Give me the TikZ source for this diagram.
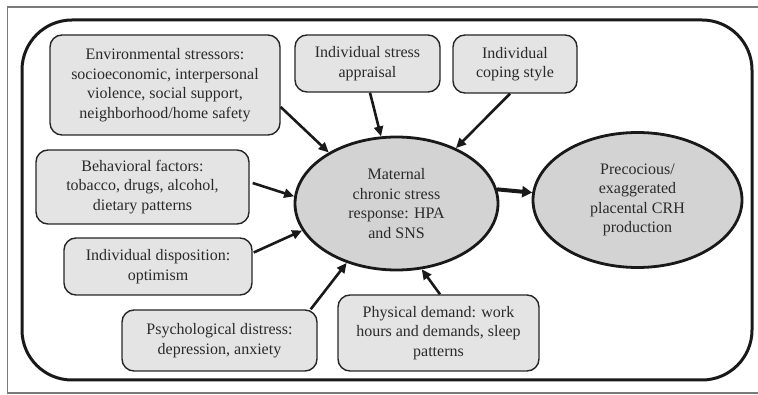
\documentclass[tikz,border=0pt]{standalone}
\usepackage{fontspec}
\setmainfont{Liberation Serif}
\usetikzlibrary{shapes.geometric,arrows.meta,calc}
\definecolor{boxfill}{HTML}{E4E4E4}
\definecolor{ellfill}{HTML}{D3D3D3}
\definecolor{txt}{HTML}{2A2A2A}
\definecolor{framegray}{HTML}{7A7A7A}
\begin{document}
\begin{tikzpicture}[x=1pt,y=-1pt,
  factor/.style={draw=black!85,line width=1.4pt,fill=boxfill,rounded corners=12pt,
    align=center,text=txt,inner sep=0pt,
    font=\fontsize{16}{19.5}\selectfont},
  hub/.style={ellipse,draw=black!90,line width=2.8pt,fill=ellfill,align=center,text=txt,
    inner sep=0pt,font=\fontsize{16}{19.5}\selectfont},
  arr/.style={line width=2.6pt,black!90,-{Triangle[length=10pt,width=9pt]}},
  bigarr/.style={line width=4pt,black!90,-{Triangle[length=10pt,width=11pt]}}]
\useasboundingbox (0,0) rectangle (758,395);
% outer frame
\draw[framegray,line width=1.2pt] (762,7) -- (7.5,7) -- (7.5,393) -- (762,393);
% rounded container
\draw[line width=3pt,black!90,rounded corners=50pt] (22,20) rectangle (752,380);
% factor boxes
\node[factor,minimum width=230pt,minimum height=100pt] (env) at (165,85)
  {Environmental stressors:\\socioeconomic, interpersonal\\violence, social support,\\neighborhood/home safety};
\node[factor,minimum width=145pt,minimum height=57pt] (app) at (367.5,63.5)
  {Individual stress\\appraisal};
\node[factor,minimum width=124pt,minimum height=58pt] (cop) at (515,64)
  {Individual\\coping style};
\node[factor,minimum width=213pt,minimum height=74pt] (beh) at (142.5,187)
  {Behavioral factors:\\tobacco, drugs, alcohol,\\dietary patterns};
\node[factor,minimum width=188pt,minimum height=57pt] (dis) at (158,266.5)
  {Individual disposition:\\optimism};
\node[factor,minimum width=195pt,minimum height=61pt] (psy) at (219.5,340.5)
  {Psychological distress:\\depression, anxiety};
\node[factor,minimum width=201pt,minimum height=76pt] (phy) at (438.5,333)
  {Physical demand: work\\hours and demands, sleep\\patterns};
% ellipses
\node[hub,minimum width=203pt,minimum height=133pt] (mat) at (396.5,203.5)
  {Maternal\\chronic stress\\response: HPA\\and SNS};
\node[hub,minimum width=209pt,minimum height=135pt] (crh) at (637.5,200)
  {Precocious/\\exaggerated\\placental CRH\\production};
% connectors
\draw[arr] ($(env.east)+(0,22)$) -- (mat.143);
\draw[arr] ($(app.south)+(2.5,0)$) -- (mat.103.5);
\draw[arr] ($(cop.south)+(-5,0)$) -- (mat.43);
\draw[arr] ($(beh.east)+(3,-4)$) -- (mat.176);
\draw[arr] ($(dis.east)+(1,-14)$) -- (mat.196.7);
\draw[arr] ($(psy.north east)+(-7,0)$) -- (mat.230.3);
\draw[arr] ($(phy.north)+(1.5,0)$) -- (mat.291);
\draw[bigarr] (mat.8) -- (crh.176);
\end{tikzpicture}
\end{document}
